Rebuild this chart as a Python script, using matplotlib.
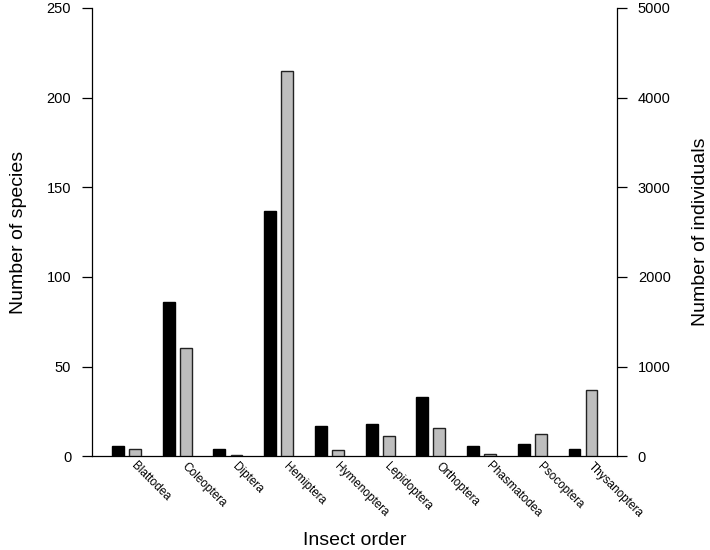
import numpy as np
import matplotlib.pyplot as plt

plt.rcParams['font.family'] = ['Liberation Sans', 'DejaVu Sans']

# --- data ---
orders = ['Blattodea', 'Coleoptera', 'Diptera', 'Hemiptera', 'Hymenoptera',
          'Lepidoptera', 'Orthoptera', 'Phasmatodea', 'Psocoptera', 'Thysanoptera']
species = [6, 86, 4, 137, 17, 18, 33, 6, 7, 4]
individuals = [80, 1210, 12, 4300, 74, 222, 320, 26, 252, 738]

fig = plt.figure(figsize=(7.1, 5.5), dpi=100)
ax = fig.add_axes([0.1296, 0.1704, 0.869 - 0.1296, 0.9855 - 0.1704])
ax2 = ax.twinx()

x = np.arange(len(orders))
w = 0.235
off = 0.168

ax.bar(x - off, species, width=w, color='black', edgecolor='black', linewidth=1)
ax2.bar(x + off, individuals, width=w, color='#BEBEBE', edgecolor='#222222', linewidth=1)

ax.set_xlim(-0.68, 9.67)
ax.set_ylim(0, 250)
ax2.set_ylim(0, 5000)
ax.set_yticks([0, 50, 100, 150, 200, 250])
ax2.set_yticks([0, 1000, 2000, 3000, 4000, 5000])

for a in (ax, ax2):
    a.spines['top'].set_visible(False)
    a.tick_params(axis='y', labelsize=10.5, length=7, width=0.9, direction='out', pad=8)
    for s in a.spines.values():
        s.set_linewidth(0.9)
ax.spines['right'].set_visible(False)
ax2.spines['left'].set_visible(False)
ax2.spines['bottom'].set_visible(False)

ax.set_xticks([])
for xi, name in zip(x, orders):
    ax.text(xi + 0.13, -4.5, name, rotation=-45, rotation_mode='anchor',
            ha='left', va='center', fontsize=8.5)

ax.set_ylabel('Number of species', fontsize=14, labelpad=14)
ax2.set_ylabel('Number of individuals', fontsize=14, labelpad=15)
ax.text(0.5, -0.188, 'Insect order', transform=ax.transAxes,
        ha='center', va='center', fontsize=14)

fig.savefig('out.png', dpi=100)
